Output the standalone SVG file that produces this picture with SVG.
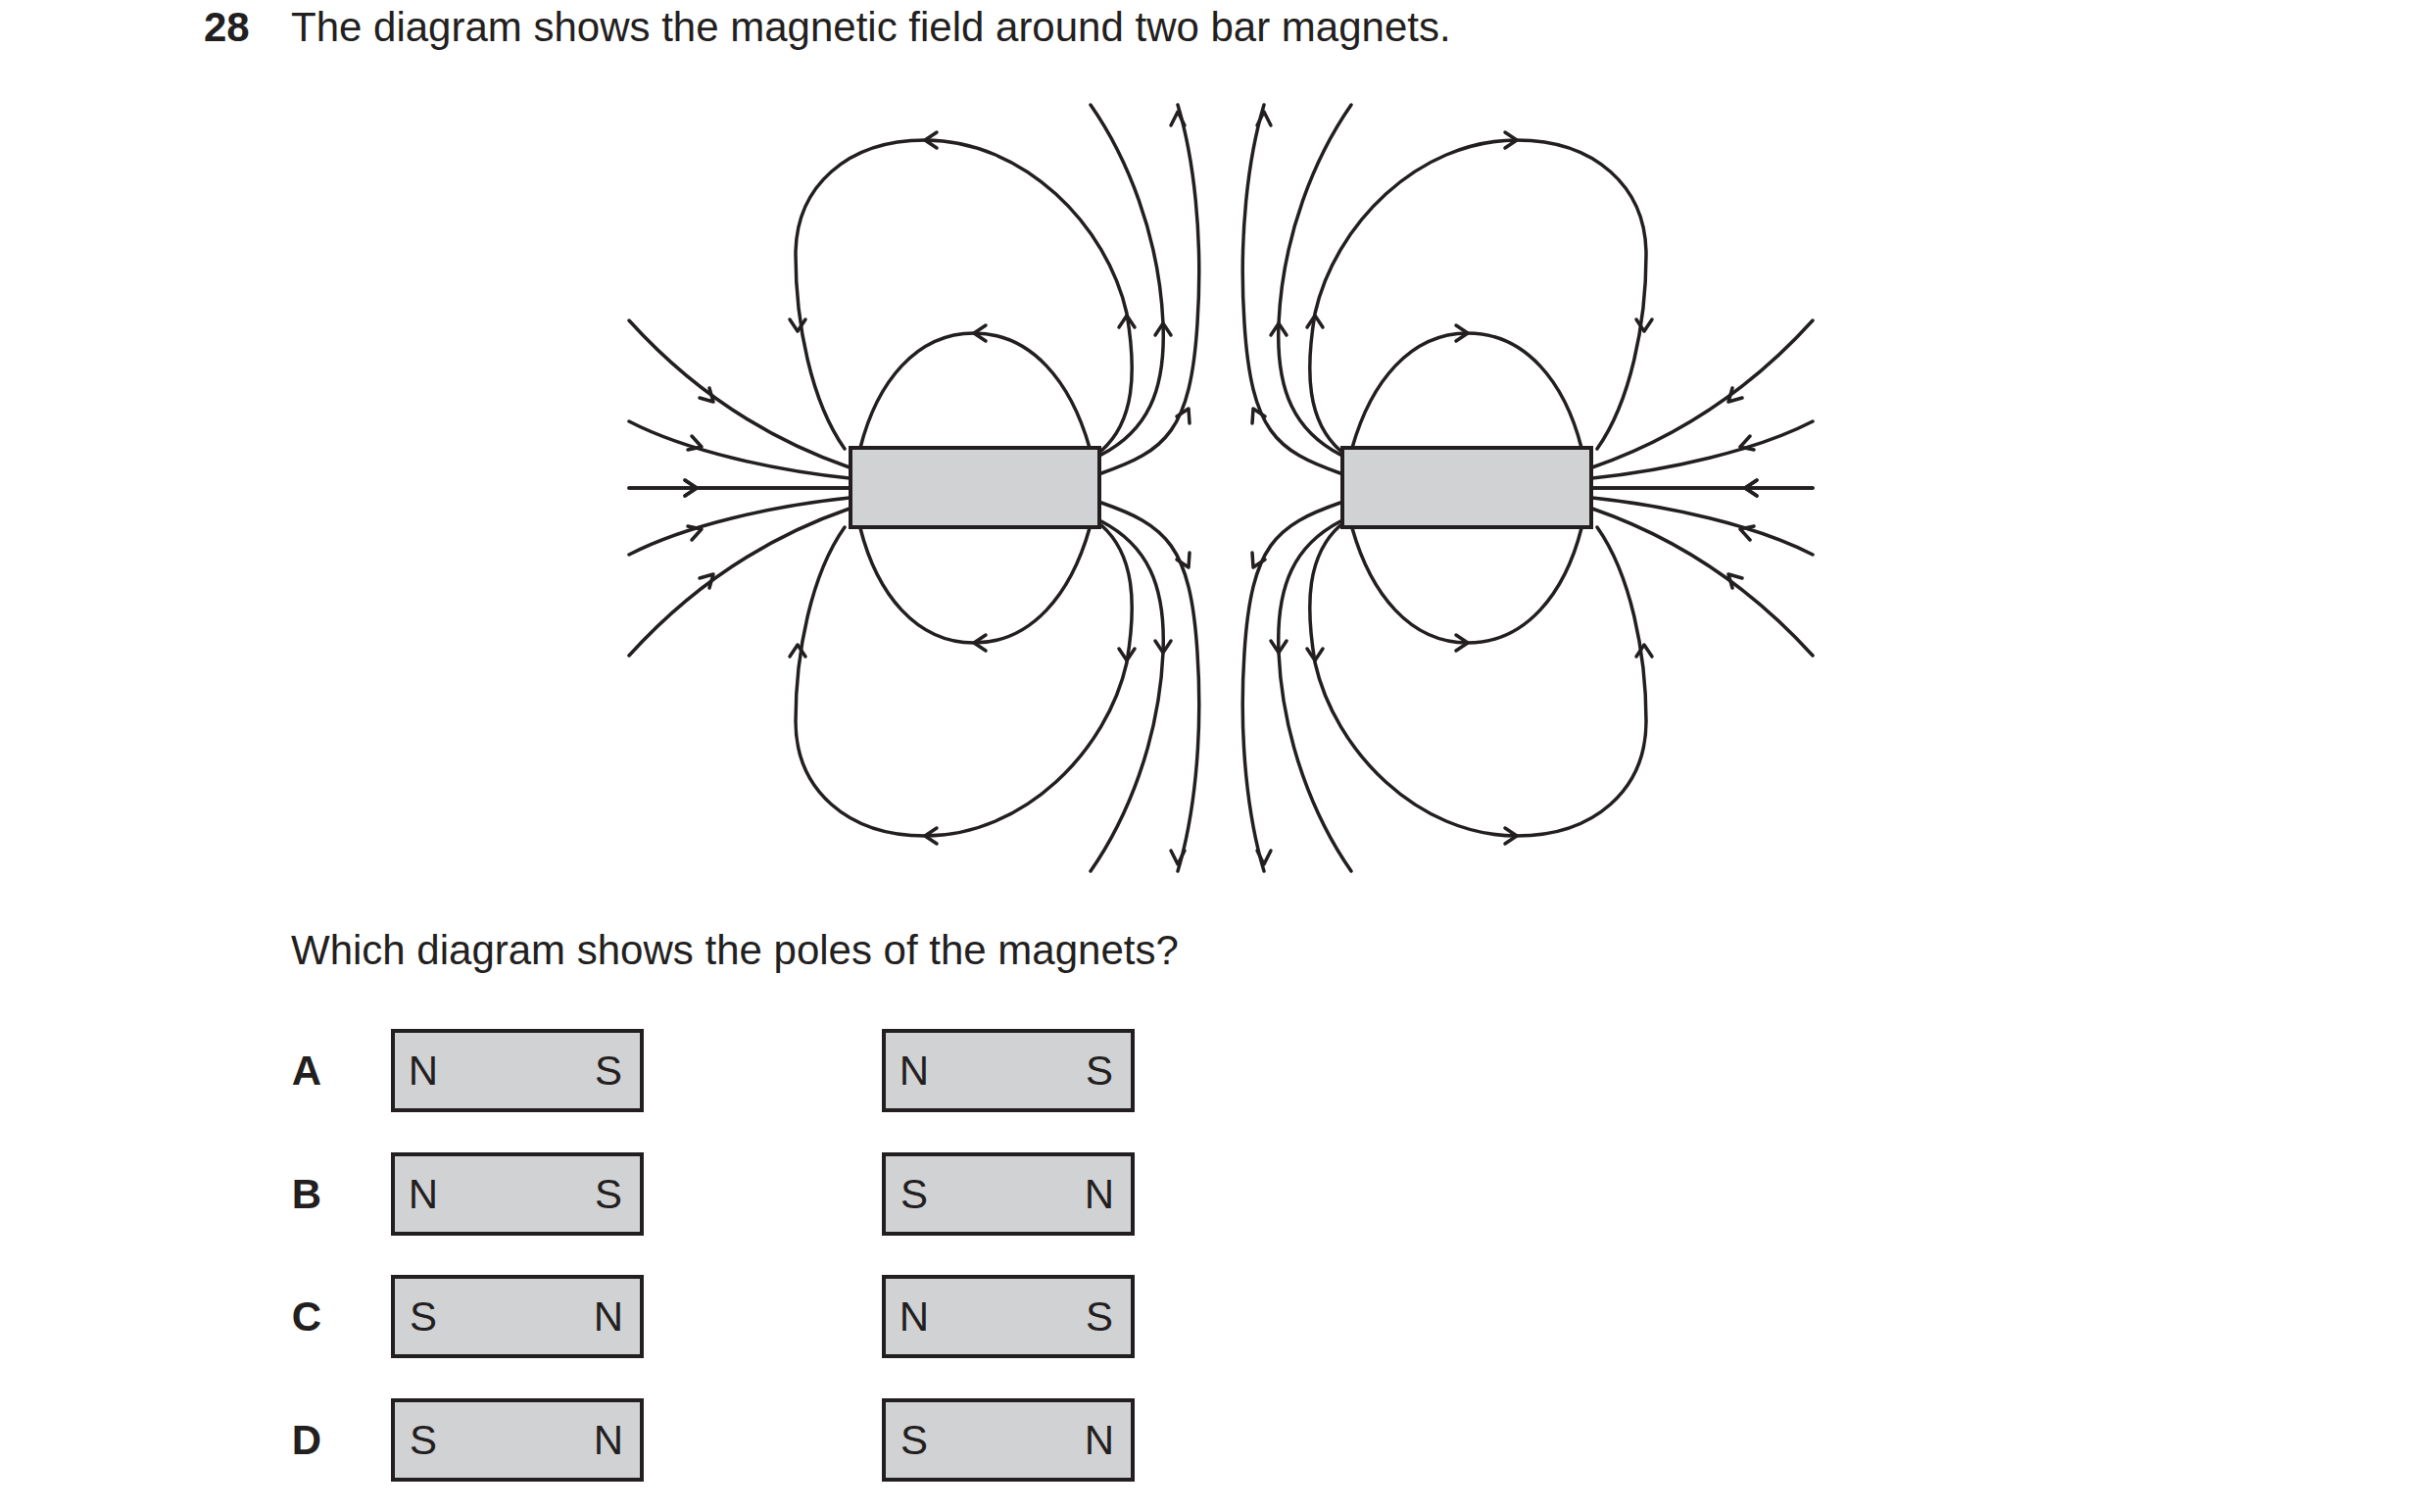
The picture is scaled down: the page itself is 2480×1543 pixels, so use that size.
<svg xmlns="http://www.w3.org/2000/svg" xmlns:xlink="http://www.w3.org/1999/xlink" width="2480" height="1543" viewBox="0 0 2480 1543">
<style>
.t{font-family:"Liberation Sans",Arial,sans-serif;font-size:42px;fill:#231f20}
.b{font-weight:bold}
.f{fill:none;stroke:#231f20;stroke-width:3.5;stroke-linecap:round;stroke-linejoin:round}
.m{fill:#d1d2d4;stroke:#231f20;stroke-width:4}
</style>
<defs>
<g id="q" class="f">
<path d="M878,457 C895,390 935,340 994,340 C1053,340 1093,390 1112,457"/>
<path d="M862,458 C828,410 812,330 812,260 C812,190 865,143 944,143 C1045,143 1130,230 1150,320 C1160,380 1158,430 1124,460"/>
<path d="M1124,464 C1170,440 1190,400 1187,330 C1183,240 1150,160 1113,107"/>
<path d="M1124,483 C1190,460 1215,440 1222,330 C1228,240 1218,160 1202,107"/>
<path d="M642,327 C690,380 760,440 867,477"/>
<path d="M642,430 C700,460 790,480 867,488"/>
<path d="M642,498 L867,498"/>
<path d="M1006,332 L994,340 L1006,348"/>
<path d="M956,135 L944,143 L956,151"/>
<path d="M806,326 L814,338 L822,326"/>
<path d="M1142,334 L1150,322 L1158,334"/>
<path d="M1179,342 L1187,330 L1195,342"/>
<path d="M1201,425 L1213,417 L1214,432"/>
<path d="M1195,128 L1202,114 L1209,128"/>
<path d="M699,490 L711,498 L699,506"/>
<path d="M706,445 L716,456 L702,459"/>
<path d="M724,396 L728,410 L714,406"/>
</g>
</defs>
<text class="t b" x="208" y="42">28</text>
<text class="t" x="297" y="42">The diagram shows the magnetic field around two bar magnets.</text>
<g id="connectors">
<use xlink:href="#q"/>
<use xlink:href="#q" transform="matrix(1,0,0,-1,0,996)"/>
<use xlink:href="#q" transform="matrix(-1,0,0,1,2492,0)"/>
<use xlink:href="#q" transform="matrix(-1,0,0,-1,2492,996)"/>
</g>
<g id="magnet-left"><rect class="m" x="868" y="457" width="254" height="81"/></g>
<g id="magnet-right"><rect class="m" x="1370" y="457" width="254" height="81"/></g>
<text class="t" x="297" y="984">Which diagram shows the poles of the magnets?</text>
<g id="optA">
<text class="t b" x="313" y="1107" text-anchor="middle">A</text>
<rect class="m" x="401" y="1052" width="254" height="81"/>
<text class="t" x="432" y="1107" text-anchor="middle">N</text><text class="t" x="621" y="1107" text-anchor="middle">S</text>
<rect class="m" x="902" y="1052" width="254" height="81"/>
<text class="t" x="933" y="1107" text-anchor="middle">N</text><text class="t" x="1122" y="1107" text-anchor="middle">S</text>
</g>
<g id="optB">
<text class="t b" x="313" y="1233" text-anchor="middle">B</text>
<rect class="m" x="401" y="1178" width="254" height="81"/>
<text class="t" x="432" y="1233" text-anchor="middle">N</text><text class="t" x="621" y="1233" text-anchor="middle">S</text>
<rect class="m" x="902" y="1178" width="254" height="81"/>
<text class="t" x="933" y="1233" text-anchor="middle">S</text><text class="t" x="1122" y="1233" text-anchor="middle">N</text>
</g>
<g id="optC">
<text class="t b" x="313" y="1358" text-anchor="middle">C</text>
<rect class="m" x="401" y="1303" width="254" height="81"/>
<text class="t" x="432" y="1358" text-anchor="middle">S</text><text class="t" x="621" y="1358" text-anchor="middle">N</text>
<rect class="m" x="902" y="1303" width="254" height="81"/>
<text class="t" x="933" y="1358" text-anchor="middle">N</text><text class="t" x="1122" y="1358" text-anchor="middle">S</text>
</g>
<g id="optD">
<text class="t b" x="313" y="1484" text-anchor="middle">D</text>
<rect class="m" x="401" y="1429" width="254" height="81"/>
<text class="t" x="432" y="1484" text-anchor="middle">S</text><text class="t" x="621" y="1484" text-anchor="middle">N</text>
<rect class="m" x="902" y="1429" width="254" height="81"/>
<text class="t" x="933" y="1484" text-anchor="middle">S</text><text class="t" x="1122" y="1484" text-anchor="middle">N</text>
</g>
</svg>
